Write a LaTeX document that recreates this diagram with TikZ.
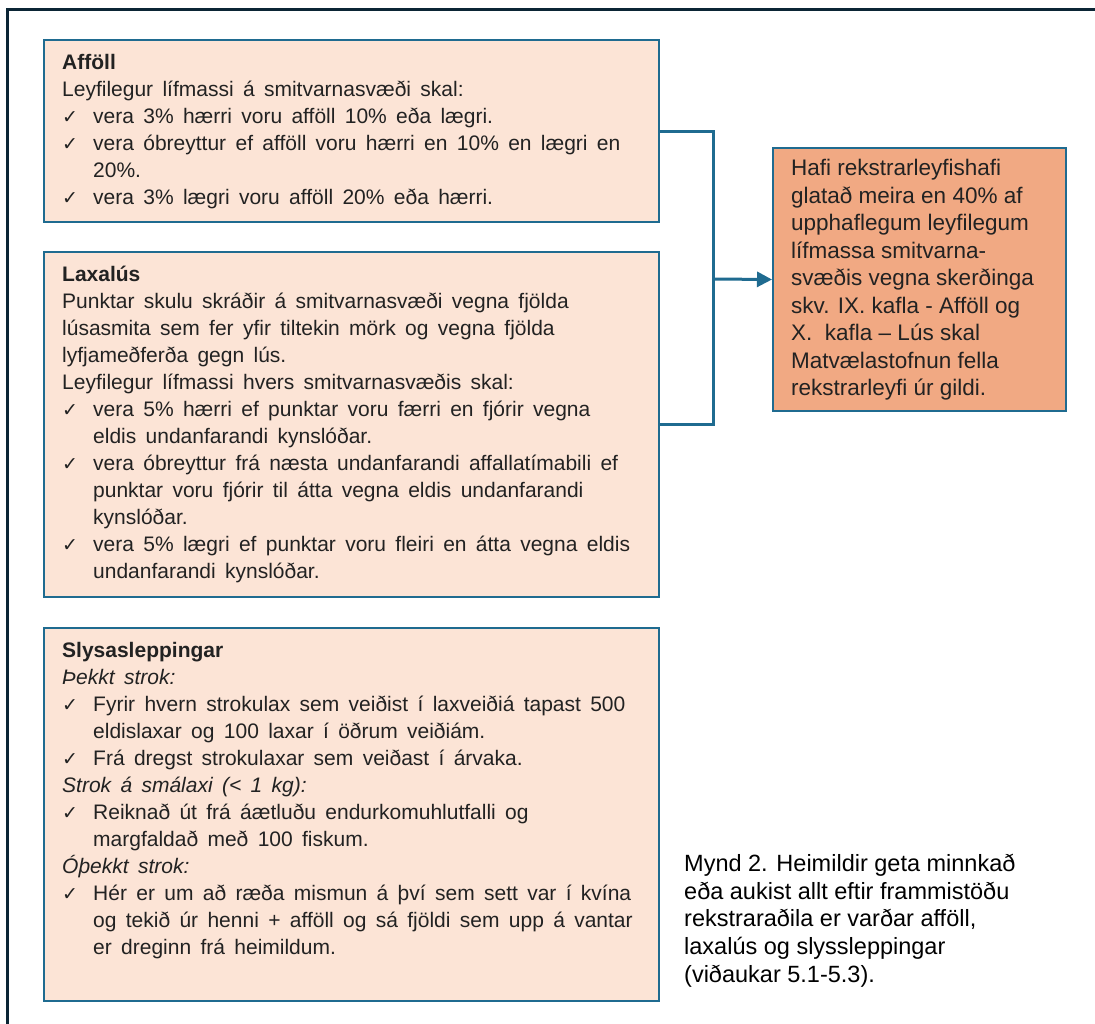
\documentclass[tikz,border=0pt]{standalone}
\usepackage{fontspec}
\setmainfont{Liberation Sans}
\newfontfamily\boxfont[WordSpace=1.6]{Liberation Sans}
\newfontfamily\dejavu{DejaVu Sans}
\usetikzlibrary{arrows.meta}
\definecolor{framecol}{HTML}{0B2535}
\definecolor{edgecol}{HTML}{1F6B90}
\definecolor{lightfill}{HTML}{FCE4D6}
\definecolor{darkfill}{HTML}{F1A983}
\definecolor{ink}{HTML}{222222}
\newcommand{\chk}{\makebox[31bp][l]{{\dejavu\fontsize{19bp}{19bp}\selectfont ✓}}}
\newcommand{\ind}{\hspace*{31bp}}
\begin{document}
\begin{tikzpicture}[x=1bp,y=-1bp,
  panel/.style={draw=edgecol, line width=2bp, fill=lightfill, anchor=north west, inner sep=0pt},
  body/.style={anchor=north west, inner sep=0pt, align=left, text=ink, font=\boxfont\fontsize{21bp}{27bp}\selectfont},
  link/.style={draw=edgecol, line width=3bp}]
\fill[white] (0,0) rectangle (1095,1024);
\useasboundingbox (0,0) rectangle (1095,1024);
\draw[framecol, line width=3.5bp] (7.5,1024) -- (7.5,9.5) -- (1095,9.5);
% boxes
\node[panel, minimum width=615bp, minimum height=182bp] (affoll) at (43,39) {};
\node[panel, minimum width=615bp, minimum height=345bp] (laxalus) at (43,251) {};
\node[panel, minimum width=615bp, minimum height=373bp] (slys) at (43,627) {};
\node[panel, fill=darkfill, minimum width=293bp, minimum height=263bp] (rbox) at (772,147) {};
% texts
\node[body] (taffoll) at (62,54) {\textbf{Afföll}\\
Leyfilegur lífmassi á smitvarnasvæði skal:\\
\chk vera 3\% hærri voru afföll 10\% eða lægri.\\
\chk vera óbreyttur ef afföll voru hærri en 10\% en lægri en\\
\ind 20\%.\\
\chk vera 3\% lægri voru afföll 20\% eða hærri.};
\node[body] (tlaxalus) at (62,266) {\textbf{Laxalús}\\
Punktar skulu skráðir á smitvarnasvæði vegna fjölda\\
lúsasmita sem fer yfir tiltekin mörk og vegna fjölda\\
lyfjameðferða gegn lús.\\
Leyfilegur lífmassi hvers smitvarnasvæðis skal:\\
\chk vera 5\% hærri ef punktar voru færri en fjórir vegna\\
\ind eldis undanfarandi kynslóðar.\\
\chk vera óbreyttur frá næsta undanfarandi affallatímabili ef\\
\ind punktar voru fjórir til átta vegna eldis undanfarandi\\
\ind kynslóðar.\\
\chk vera 5\% lægri ef punktar voru fleiri en átta vegna eldis\\
\ind undanfarandi kynslóðar.};
\node[body] (tslys) at (62,642) {\textbf{Slysasleppingar}\\
\textit{Þekkt strok:}\\
\chk Fyrir hvern strokulax sem veiðist í laxveiðiá tapast 500\\
\ind eldislaxar og 100 laxar í öðrum veiðiám.\\
\chk Frá dregst strokulaxar sem veiðast í árvaka.\\
\textit{Strok á smálaxi (< 1 kg):}\\
\chk Reiknað út frá áætluðu endurkomuhlutfalli og\\
\ind margfaldað með 100 fiskum.\\
\textit{Óþekkt strok:}\\
\chk Hér er um að ræða mismun á því sem sett var í kvína\\
\ind og tekið úr henni + afföll og sá fjöldi sem upp á vantar\\
\ind er dreginn frá heimildum.};
\node[body, font=\fontsize{22.5bp}{27.5bp}\selectfont] (trbox) at (791,159) {Hafi rekstrarleyfishafi\\
glatað meira en 40\% af\\
upphaflegum leyfilegum\\
lífmassa smitvarna-\\
svæðis vegna skerðinga\\
skv. IX. kafla - Afföll og\\
X.\ \ kafla – Lús skal\\
Matvælastofnun fella\\
rekstrarleyfi úr gildi.};
\node[body, text=black, font=\fontsize{23.5bp}{27.7bp}\selectfont] (caption) at (684,854) {Mynd 2. Heimildir geta minnkað\\
eða aukist allt eftir frammistöðu\\
rekstraraðila er varðar afföll,\\
laxalús og slyssleppingar\\
(viðaukar 5.1-5.3).};
% connectors
\coordinate (junc) at (713,279);
\draw[link] (affoll.east) -| (junc) |- (laxalus.east);
\draw[link, -{Triangle[length=15bp,width=15bp]}] (junc) -- (rbox.west);
\end{tikzpicture}
\end{document}
